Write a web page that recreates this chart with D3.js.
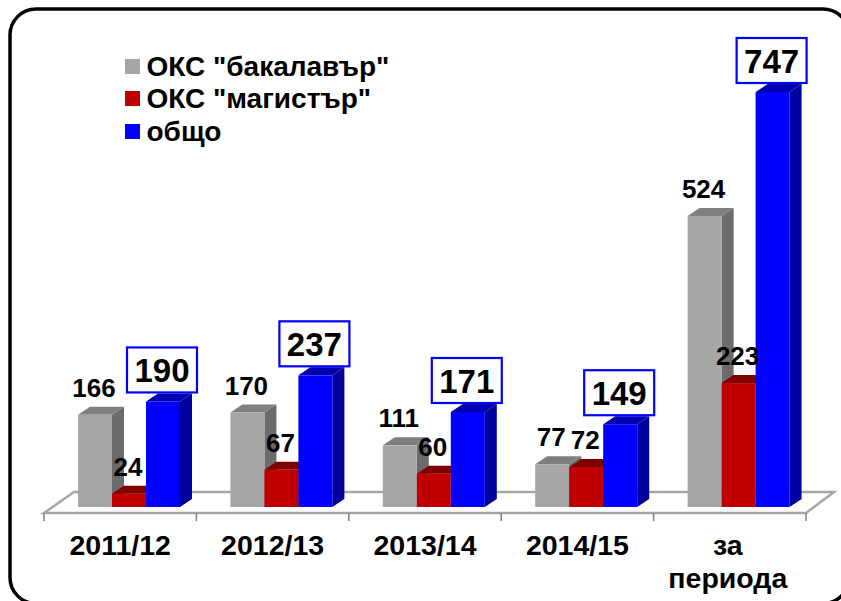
<!DOCTYPE html>
<html>
<head>
<meta charset="utf-8">
<script src="https://cdn.jsdelivr.net/npm/d3@7"></script>
<style>
  html, body { margin: 0; padding: 0; background: #fff; overflow: hidden; }
  svg { display: block; font-family: "Liberation Sans", Arial, sans-serif; font-weight: bold; }
</style>
</head>
<body>
<svg id="chart" width="841" height="601"></svg>
<script>
const categories = ["2011/12", "2012/13", "2013/14", "2014/15", "за периода"];
const bachelor = [166, 170, 111, 77, 524];
const master = [24, 67, 60, 72, 223];
const total = [190, 237, 171, 149, 747];
const seriesNames = ['ОКС "бакалавър"', 'ОКС "магистър"', "общо"];

const svg = d3.select("#chart");

const colors = [
  { front: "#a6a6a6", side: "#6b6b6b", top: "#7f7f7f" },
  { front: "#c00000", side: "#800000", top: "#800000" },
  { front: "#0000ff", side: "#00009c", top: "#0000b0" },
];
const series = [bachelor, master, total];

const depth = { x: 12, y: 8 };
const baseY = 507;

const x0 = d3.scaleBand().domain(categories).range([44, 806]);
const x1 = d3.scaleBand().domain([0, 1, 2]).range([34, 136]);
const y = d3.scaleLinear().domain([0, 747]).range([baseY, 92]);

// frame
svg.append("rect")
  .attr("x", 10)
  .attr("y", 9)
  .attr("width", 839)
  .attr("height", 594.5)
  .attr("rx", 26)
  .attr("fill", "#fff")
  .attr("stroke", "#000")
  .attr("stroke-width", 3.5);

// floor
const floorPts = [[44, 513], [74, 492], [834, 492], [806, 513]];
svg.append("polygon")
  .attr("points", floorPts.join(" "))
  .attr("fill", "#fff")
  .attr("stroke", "#a6a6a6")
  .attr("stroke-width", 2.5);

// ticks on the front edge
const tickPos = categories.map((d) => x0(d)).concat([806]);
svg.append("g")
  .selectAll("line")
  .data(tickPos)
  .join("line")
  .attr("x1", (d) => d)
  .attr("x2", (d) => d)
  .attr("y1", 513)
  .attr("y2", 521)
  .attr("stroke", "#808080")
  .attr("stroke-width", 1.5);

// bars, left to right so each one covers the side of the previous
const bars = svg.append("g");
categories.forEach((cat, i) => {
  series.forEach((values, s) => {
    const left = x0(cat) + x1(s);
    const w = x1.bandwidth();
    const top = y(values[i]);
    const c = colors[s];
    const g = bars.append("g");
    g.append("polygon")
      .attr("points", [
        [left + w, top],
        [left + w + depth.x, top - depth.y],
        [left + w + depth.x, baseY - depth.y],
        [left + w, baseY],
      ].join(" "))
      .attr("fill", c.side);
    g.append("polygon")
      .attr("points", [
        [left, top],
        [left + depth.x, top - depth.y],
        [left + w + depth.x, top - depth.y],
        [left + w, top],
      ].join(" "))
      .attr("fill", c.top);
    g.append("rect")
      .attr("x", left)
      .attr("y", top)
      .attr("width", w)
      .attr("height", baseY - top)
      .attr("fill", c.front);
  });
});

// plain value labels
categories.forEach((cat, i) => {
  [bachelor, master].forEach((values, s) => {
    const left = x0(cat) + x1(s);
    svg.append("text")
      .attr("x", left + x1.bandwidth() / 2 - 1)
      .attr("y", y(values[i]) - 18)
      .attr("text-anchor", "middle")
      .attr("font-size", 26)
      .text(values[i]);
  });
});

// boxed totals
const boxW = 70;
const boxH = 45;
categories.forEach((cat, i) => {
  const left = x0(cat) + x1(2);
  const cx = left + x1.bandwidth() / 2 - 1;
  const boxBottom = y(total[i]) - 9;
  svg.append("rect")
    .attr("x", cx - boxW / 2)
    .attr("y", boxBottom - boxH)
    .attr("width", boxW)
    .attr("height", boxH)
    .attr("fill", "#fff")
    .attr("stroke", "#0000ff")
    .attr("stroke-width", 2.2);
  svg.append("text")
    .attr("x", cx)
    .attr("y", boxBottom - 10.5)
    .attr("text-anchor", "middle")
    .attr("font-size", 33)
    .text(total[i]);
});

// category labels
categories.forEach((cat) => {
  const parts = cat.split(" ");
  const t = svg.append("text")
    .attr("text-anchor", "middle")
    .attr("font-size", 28.5);
  parts.forEach((p, j) => {
    t.append("tspan")
      .attr("x", x0(cat) + x0.bandwidth() / 2 + (parts.length > 1 ? -2 : 0))
      .attr("y", 555 + j * 33)
      .text(p);
  });
});

// legend
const legendY = [59, 91, 124];
seriesNames.forEach((name, i) => {
  svg.append("rect")
    .attr("x", 125)
    .attr("y", legendY[i])
    .attr("width", 15)
    .attr("height", 15)
    .attr("fill", colors[i].front);
  svg.append("text")
    .attr("x", 146.5)
    .attr("y", legendY[i] + 17)
    .attr("font-size", 28)
    .text(name);
});
</script>
</body>
</html>
